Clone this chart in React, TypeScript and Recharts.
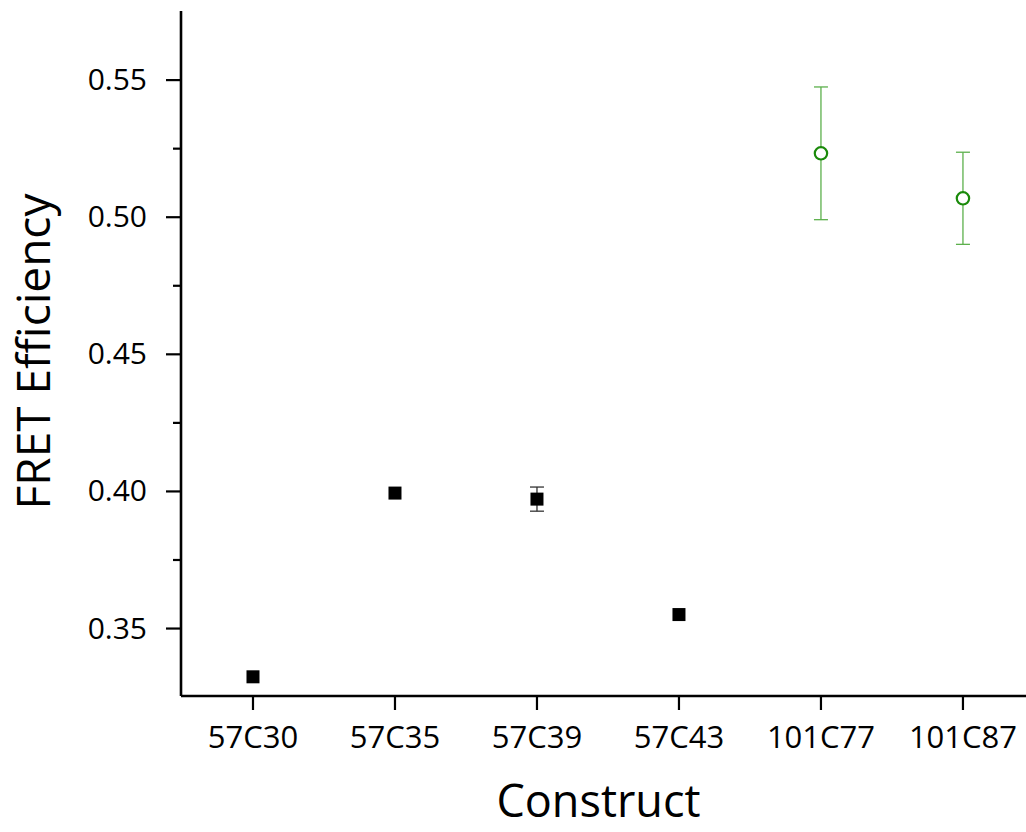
import React from 'react';
import { ErrorBar, Label, Scatter, ScatterChart, XAxis, YAxis } from 'recharts';

const CONSTRUCTS = ['57C30', '57C35', '57C39', '57C43', '101C77', '101C87'];

// black squares: 57Cxx constructs
const SQUARE_IDX = [0, 1, 2, 3];
const SQUARE_VALUES = [0.3324, 0.3994, 0.3972, 0.3551];
const SQUARE_ERR = [0, 0, 0.0044, 0];

// open green circles: 101Cxx constructs
const CIRCLE_IDX = [4, 5];
const CIRCLE_VALUES = [0.5233, 0.5069];
const CIRCLE_ERR = [0.0242, 0.0168];

const Y_MAJOR = [0.35, 0.4, 0.45, 0.5, 0.55];
const Y_MINOR = [0.375, 0.425, 0.475, 0.525];
const Y_LABELS = ['0.35', '0.40', '0.45', '0.50', '0.55'];

const FONT = '"Open Sans", "Noto Sans", sans-serif';

const squareData = SQUARE_IDX.map((i, k) => ({ idx: i, value: SQUARE_VALUES[k], err: SQUARE_ERR[k] }));
const circleData = CIRCLE_IDX.map((i, k) => ({ idx: i, value: CIRCLE_VALUES[k], err: CIRCLE_ERR[k] }));
const yTicks = [...Y_MAJOR, ...Y_MINOR].sort((a, b) => a - b);

const YTick = (props: any) => {
  const { x, y, payload } = props;
  const majorIdx = Y_MAJOR.findIndex((v) => Math.abs(v - payload.value) < 1e-9);
  const len = majorIdx >= 0 ? 15 : 8;
  return (
    <g>
      <line x1={x - len} x2={x} y1={y} y2={y} stroke="#000" strokeWidth={2.2} />
      {majorIdx >= 0 && (
        <text x={x - 34} y={y + 10} textAnchor="end" fontSize={30} fontFamily={FONT} fill="#000">
          {Y_LABELS[majorIdx]}
        </text>
      )}
    </g>
  );
};

const XTick = (props: any) => {
  const { x, y, payload } = props;
  return (
    <g>
      <line x1={x} x2={x} y1={y} y2={y + 14} stroke="#000" strokeWidth={2.2} />
      <text x={x} y={y + 52} textAnchor="middle" fontSize={31} fontFamily={FONT} fill="#000">
        {CONSTRUCTS[payload.value]}
      </text>
    </g>
  );
};

const SquareShape = (props: any) => {
  const { cx, cy } = props;
  return <rect x={cx - 6.5} y={cy - 6.5} width={13} height={13} fill="#000" />;
};

const CircleShape = (props: any) => {
  const { cx, cy } = props;
  return <circle cx={cx} cy={cy} r={6.2} fill="#fff" stroke="#1a8a0a" strokeWidth={2.2} />;
};

const X_DOMAIN: [number, number] = [-0.507, 5.444];

export default function App() {
  return (
    <div style={{ position: 'absolute', left: 0, top: 0, background: '#fff' }}>
      <ScatterChart width={1026} height={832} margin={{ top: 11, right: 0, bottom: 0, left: 113 }}>
        <XAxis
          xAxisId="top"
          orientation="top"
          type="number"
          domain={X_DOMAIN}
          height={0}
          tick={false}
          tickLine={false}
          axisLine={{ stroke: '#000', strokeWidth: 2.6 }}
        />
        <XAxis
          dataKey="idx"
          type="number"
          domain={X_DOMAIN}
          ticks={[0, 1, 2, 3, 4, 5]}
          interval={0}
          height={136}
          tickSize={0}
          tickMargin={0}
          tickLine={false}
          tick={<XTick />}
          axisLine={{ stroke: '#000', strokeWidth: 2.6 }}
          allowDataOverflow
        >
          <Label
            content={(p: any) => {
              const vb = p.viewBox;
              return (
                <text
                  x={vb.x + vb.width / 2 - 5}
                  y={vb.y + 121}
                  textAnchor="middle"
                  fontSize={45}
                  fontFamily={FONT}
                  fill="#000"
                >
                  Construct
                </text>
              );
            }}
          />
        </XAxis>
        <YAxis
          dataKey="value"
          type="number"
          domain={[0.3254, 0.5752]}
          ticks={yTicks}
          interval={0}
          width={68}
          tickSize={0}
          tickMargin={0}
          tickLine={false}
          tick={<YTick />}
          axisLine={{ stroke: '#000', strokeWidth: 2.6 }}
          allowDataOverflow
        >
          <Label
            content={(p: any) => {
              const vb = p.viewBox;
              const cy = vb.y + vb.height / 2 - 2;
              return (
                <text
                  transform={`translate(50, ${cy}) rotate(-90)`}
                  textAnchor="middle"
                  fontSize={46}
                  fontFamily={FONT}
                  fill="#000"
                >
                  FRET Efficiency
                </text>
              );
            }}
          />
        </YAxis>
        <Scatter data={squareData} shape={<SquareShape />} isAnimationActive={false}>
          <ErrorBar dataKey="err" direction="y" width={7} stroke="#333" strokeWidth={1.3} />
        </Scatter>
        <Scatter data={circleData} shape={<CircleShape />} isAnimationActive={false}>
          <ErrorBar dataKey="err" direction="y" width={7} stroke="#5cb04c" strokeWidth={1.3} />
        </Scatter>
      </ScatterChart>
    </div>
  );
}
